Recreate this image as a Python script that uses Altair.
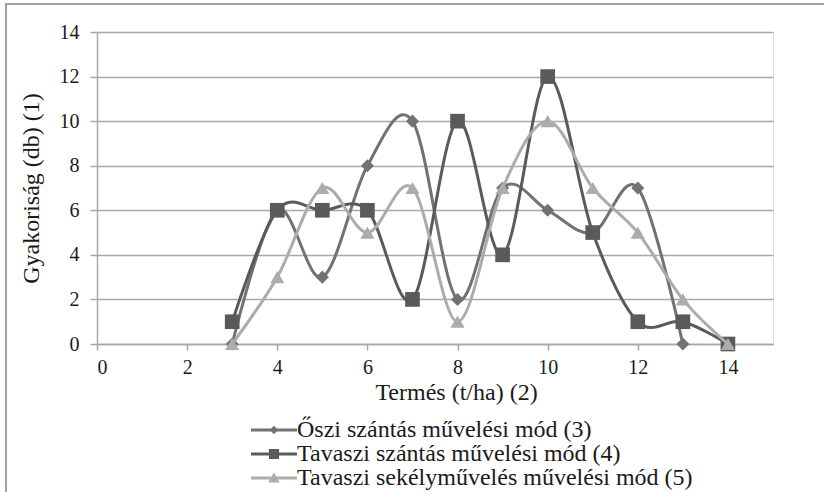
import altair as alt
import pandas as pd

x_vals = [3, 4, 5, 6, 7, 8, 9, 10, 11, 12, 13, 14]
oszi_szantas = [0, 6, 3, 8, 10, 2, 7, 6, 5, 7, 0]          # x = 3..13
tavaszi_szantas = [1, 6, 6, 6, 2, 10, 4, 12, 5, 1, 1, 0]  # x = 3..14
tavaszi_sekely = [0, 3, 7, 5, 7, 1, 7, 10, 7, 5, 2, 0]    # x = 3..14

series_names = [
    "Őszi szántás művelési mód (3)",
    "Tavaszi szántás művelési mód (4)",
    "Tavaszi sekélyművelés művelési mód (5)",
]
colors = ["#727272", "#5a5a5a", "#acacac"]
marker_shapes = ["diamond", "square", "triangle-up"]
marker_sizes = [170, 215, 200]
# legend glyphs: line through a marker (unit = half of sqrt(symbolSize))
legend_paths = [
    "M-2,-0.14H2V0.14H-2Z M0,-0.38L0.38,0L0,0.38L-0.38,0Z",
    "M-2,-0.14H2V0.14H-2Z M-0.44,-0.44H0.44V0.44H-0.44Z",
    "M-2,-0.14H2V0.14H-2Z M0,-0.48L0.5,0.4L-0.5,0.4Z",
]
x_ticks = [0, 2, 4, 6, 8, 10, 12, 14]
y_ticks = [0, 2, 4, 6, 8, 10, 12, 14]

rows = []
for name, ys in zip(series_names, [oszi_szantas, tavaszi_szantas, tavaszi_sekely]):
    for xv, yv in zip(x_vals, ys):
        rows.append({"series": name, "x": xv, "y": yv})
df = pd.DataFrame(rows)

FONT = "Liberation Serif"
GRAY = "#a8a8a8"
TXT = "#1a1a1a"

x_enc = alt.X(
    "x:Q",
    scale=alt.Scale(domain=[0, 15], nice=False, zero=False),
    axis=alt.Axis(
        values=x_ticks, title="Termés (t/ha) (2)", grid=False,
        domainColor=GRAY, domainWidth=1.5, tickColor=GRAY, tickWidth=1.5, tickSize=6,
        labelFont=FONT, labelFontSize=20, labelColor=TXT, labelPadding=7,
        titleFont=FONT, titleFontSize=24, titleFontWeight="normal", titleColor=TXT,
        titleX=359, titleY=55, titleBaseline="alphabetic", titleAlign="center",
    ),
)
y_enc = alt.Y(
    "y:Q",
    scale=alt.Scale(domain=[0, 14], nice=False),
    axis=alt.Axis(
        values=y_ticks, title="Gyakoriság (db) (1)", grid=True,
        gridColor=GRAY, gridWidth=1.5,
        domainColor=GRAY, domainWidth=1.5, tickColor=GRAY, tickWidth=1.5, tickSize=7,
        labelFont=FONT, labelFontSize=20, labelColor=TXT, labelPadding=11,
        titleFont=FONT, titleFontSize=24, titleFontWeight="normal", titleColor=TXT,
        titleX=-59, titleY=156, titleAngle=-90, titleBaseline="alphabetic", titleAlign="center",
    ),
)

base = alt.Chart(df).encode(x=x_enc, y=y_enc)

layers = []
for name, col, shp, sz in zip(series_names, colors, marker_shapes, marker_sizes):
    sub = base.transform_filter(alt.datum.series == name)
    layers.append(sub.mark_line(interpolate="cardinal", strokeWidth=3, color=col))
    layers.append(sub.mark_point(filled=True, shape=shp, size=sz, opacity=1, color=col))

legend = alt.Legend(
    title=None, orient="none", legendX=165, legendY=386,
    symbolSize=529, symbolStrokeWidth=0, symbolOpacity=1, labelFont=FONT, labelFontSize=24,
    labelColor=TXT, labelOffset=11, rowPadding=0, labelLimit=600,
)
# legend-only layer: draws no marks (filtered out), scales have explicit domains
legend_layer = base.transform_filter(alt.datum.x < -100).mark_point(filled=True).encode(
    fill=alt.Fill("series:N", scale=alt.Scale(domain=series_names, range=colors), legend=legend),
    shape=alt.Shape("series:N", scale=alt.Scale(domain=series_names, range=legend_paths), legend=legend),
)
layers.append(legend_layer)

frame = alt.Chart(pd.DataFrame({"a": [0]})).mark_rect(
    fillOpacity=0, stroke="#a0a0a0", strokeWidth=2
).encode(x=alt.value(-91), x2=alt.value(760), y=alt.value(-28), y2=alt.value(480))

chart = alt.layer(frame, *layers).properties(
    width=676, height=312,
    autosize=alt.AutoSizeParams(type="none"),
    padding={"left": 97, "top": 32, "right": 51, "bottom": 148},
).configure_view(stroke=None).configure(background="white")

chart.save("out.html", embed_options={"renderer": "svg", "actions": False})
